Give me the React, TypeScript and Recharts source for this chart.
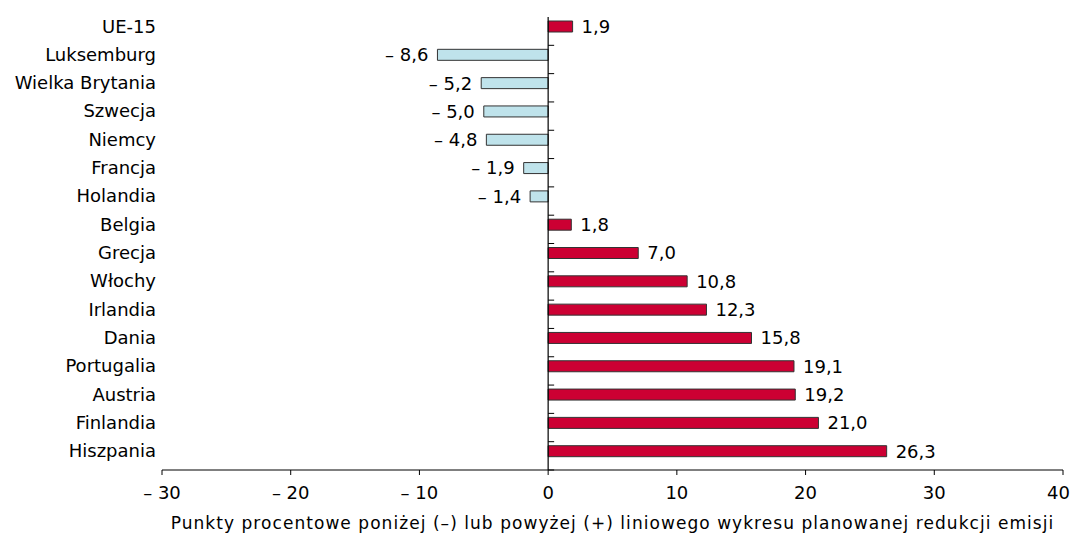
import React from 'react';
import { Bar, BarChart, Cell, LabelList, ReferenceLine, XAxis, YAxis } from 'recharts';

const countries = [
  'UE-15', 'Luksemburg', 'Wielka Brytania', 'Szwecja', 'Niemcy', 'Francja', 'Holandia', 'Belgia',
  'Grecja', 'Włochy', 'Irlandia', 'Dania', 'Portugalia', 'Austria', 'Finlandia', 'Hiszpania',
];
const gaps = [1.9, -8.6, -5.2, -5.0, -4.8, -1.9, -1.4, 1.8, 7.0, 10.8, 12.3, 15.8, 19.1, 19.2, 21.0, 26.3];
const xTicks = [-30, -20, -10, 0, 10, 20, 30, 40];
const axisTitle = 'Punkty procentowe poniżej (–) lub powyżej (+) liniowego wykresu planowanej redukcji emisji';

const data = countries.map((name, i) => ({ name, value: gaps[i] }));

const FONT = '"DejaVu Sans", Verdana, sans-serif';
const RED = '#cc0033';
const BLUE = '#bfe3eb';

const fmtNum = (v: number) => (v < 0 ? `– ${Math.abs(v).toFixed(1)}` : v.toFixed(1)).replace('.', ',');
const fmtTick = (v: number) => (v < 0 ? `– ${Math.abs(v)}` : `${v}`);

// zero line with small ticks between categories
const ZeroLine = (props: any) => {
  const { x1, y1, y2 } = props;
  const n = countries.length;
  const step = (y2 - y1) / n;
  const marks = [];
  for (let i = 0; i < n; i++) {
    const y = y1 + i * step;
    marks.push(<line key={i} x1={x1} x2={x1 + 6} y1={y} y2={y} stroke="#000" strokeWidth={1} />);
  }
  return (
    <g>
      <line x1={x1} x2={x1} y1={y1} y2={y2} stroke="#000" strokeWidth={1.2} />
      {marks}
    </g>
  );
};

export default function App() {
  return (
    <div style={{ fontFamily: FONT }}>
      <BarChart
        width={1062}
        height={528}
        data={data}
        layout="vertical"
        margin={{ top: 9, right: 7, bottom: 0, left: 0 }}
        barSize={11}
      >
        <XAxis
          type="number"
          domain={[-30, 40]}
          ticks={xTicks}
          tickFormatter={fmtTick}
          tickSize={5}
          tickMargin={11}
          height={66}
          stroke="#000"
          tick={{ fill: '#000', fontSize: 18, fontFamily: FONT }}
          label={{
            value: axisTitle,
            position: 'insideBottom',
            offset: 7,
            fill: '#000',
            fontSize: 17,
            letterSpacing: 1.05,
            fontFamily: FONT,
          }}
        />
        <YAxis
          type="category"
          dataKey="name"
          width={154}
          axisLine={false}
          tickLine={false}
          tickSize={4}
          tickMargin={2}
          interval={0}
          padding={{ top: -5, bottom: 5 }}
          tick={{ fill: '#000', fontSize: 18, fontFamily: FONT }}
        />
        <Bar dataKey="value" stroke="#333" strokeWidth={1} isAnimationActive={false}>
          {data.map((d) => (
            <Cell key={d.name} fill={d.value < 0 ? BLUE : RED} />
          ))}
          <LabelList
            dataKey="value"
            position="right"
            offset={9}
            formatter={(v: any) => fmtNum(Number(v))}
            style={{ fill: '#000', fontSize: 18, fontFamily: FONT }}
          />
        </Bar>
        <ReferenceLine x={0} shape={ZeroLine} ifOverflow="visible" />
      </BarChart>
    </div>
  );
}
